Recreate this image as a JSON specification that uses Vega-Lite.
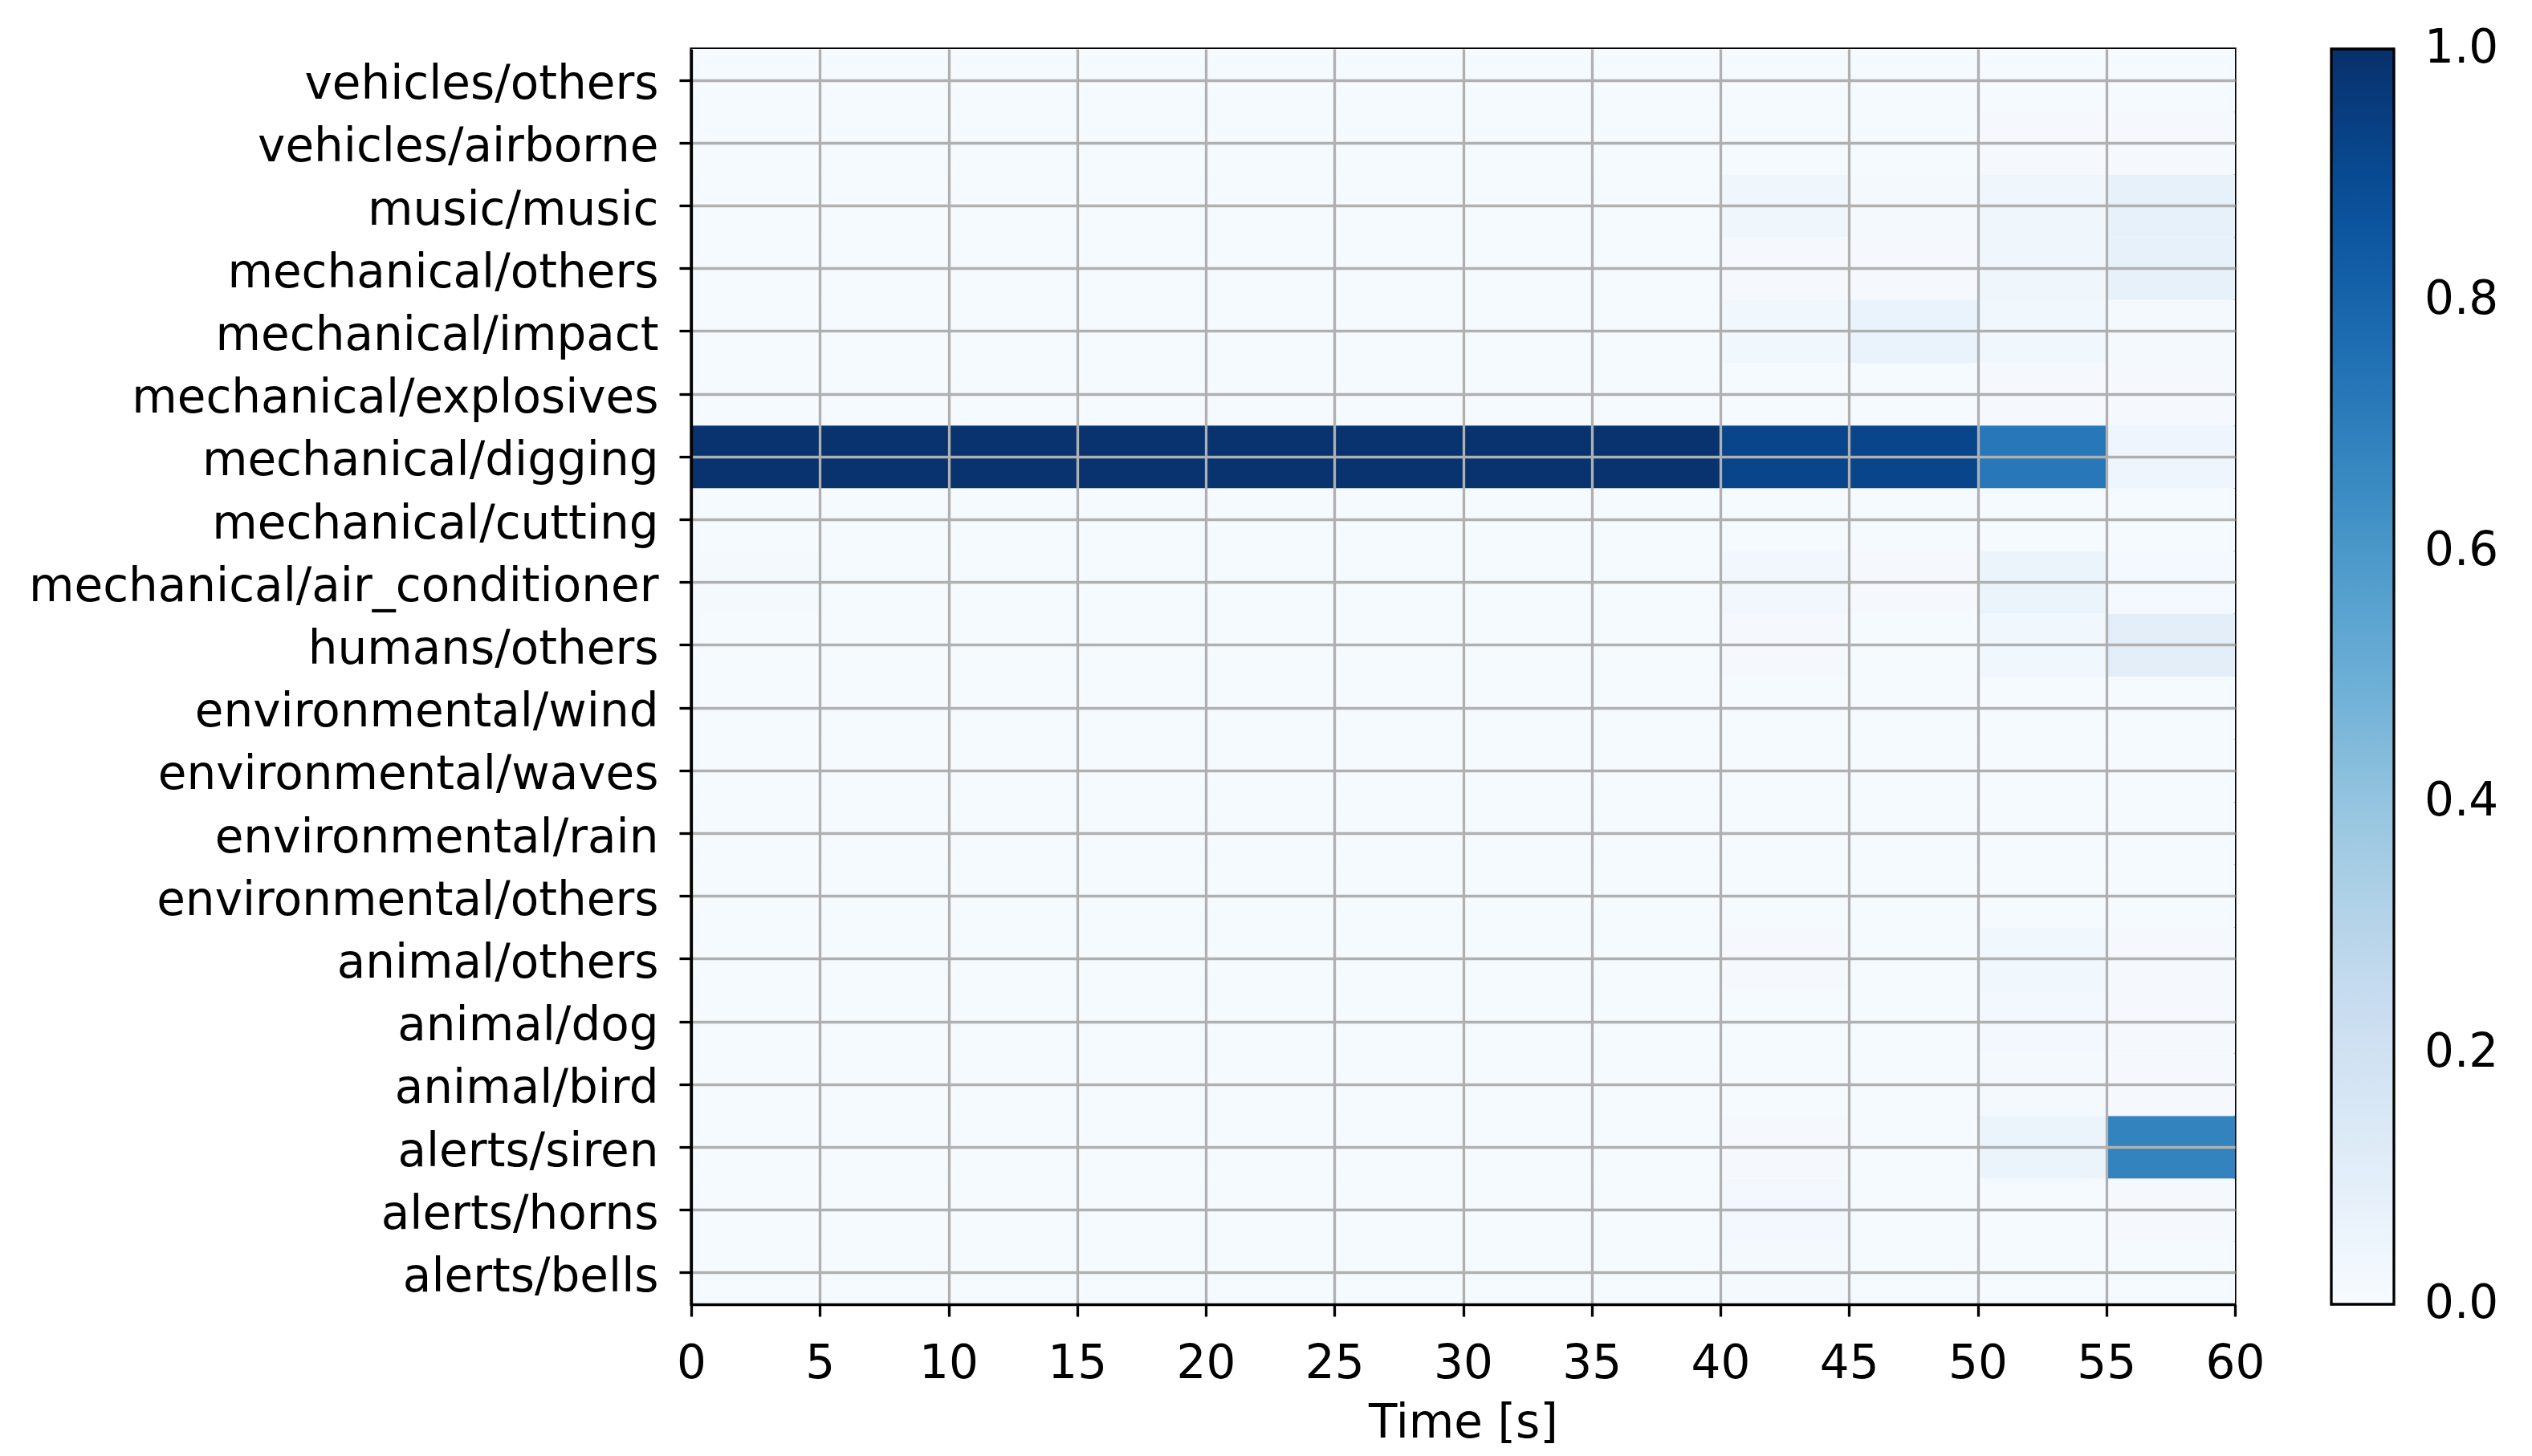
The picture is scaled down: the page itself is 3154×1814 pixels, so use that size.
{
"$schema": "https://vega.github.io/schema/vega-lite/v6.json",
"width": 1923, "height": 1564,
"autosize": {"type": "none"},
"padding": {"left": 861, "top": 61, "right": 370, "bottom": 189},
"background": "white",
"config": {"font": "DejaVu Sans", "view": {"stroke": "black", "strokeWidth": 3.3}},
"datasets": {"cells": [
{"c":"vehicles/others","t0":0,"t1":5,"v":0.01},{"c":"vehicles/others","t0":5,"t1":10,"v":0.01},{"c":"vehicles/others","t0":10,"t1":15,"v":0.01},{"c":"vehicles/others","t0":15,"t1":20,"v":0.01},{"c":"vehicles/others","t0":20,"t1":25,"v":0.01},{"c":"vehicles/others","t0":25,"t1":30,"v":0.01},{"c":"vehicles/others","t0":30,"t1":35,"v":0.01},{"c":"vehicles/others","t0":35,"t1":40,"v":0.01},{"c":"vehicles/others","t0":40,"t1":45,"v":0.01},{"c":"vehicles/others","t0":45,"t1":50,"v":0.01},{"c":"vehicles/others","t0":50,"t1":55,"v":0.01},{"c":"vehicles/others","t0":55,"t1":60,"v":0.01},
{"c":"vehicles/airborne","t0":0,"t1":5,"v":0.01},{"c":"vehicles/airborne","t0":5,"t1":10,"v":0.01},{"c":"vehicles/airborne","t0":10,"t1":15,"v":0.01},{"c":"vehicles/airborne","t0":15,"t1":20,"v":0.01},{"c":"vehicles/airborne","t0":20,"t1":25,"v":0.01},{"c":"vehicles/airborne","t0":25,"t1":30,"v":0.01},{"c":"vehicles/airborne","t0":30,"t1":35,"v":0.01},{"c":"vehicles/airborne","t0":35,"t1":40,"v":0.01},{"c":"vehicles/airborne","t0":40,"t1":45,"v":0.01},{"c":"vehicles/airborne","t0":45,"t1":50,"v":0.01},{"c":"vehicles/airborne","t0":50,"t1":55,"v":0.012},{"c":"vehicles/airborne","t0":55,"t1":60,"v":0.012},
{"c":"music/music","t0":0,"t1":5,"v":0.01},{"c":"music/music","t0":5,"t1":10,"v":0.01},{"c":"music/music","t0":10,"t1":15,"v":0.01},{"c":"music/music","t0":15,"t1":20,"v":0.01},{"c":"music/music","t0":20,"t1":25,"v":0.01},{"c":"music/music","t0":25,"t1":30,"v":0.01},{"c":"music/music","t0":30,"t1":35,"v":0.01},{"c":"music/music","t0":35,"t1":40,"v":0.01},{"c":"music/music","t0":40,"t1":45,"v":0.04},{"c":"music/music","t0":45,"t1":50,"v":0.015},{"c":"music/music","t0":50,"t1":55,"v":0.04},{"c":"music/music","t0":55,"t1":60,"v":0.08},
{"c":"mechanical/others","t0":0,"t1":5,"v":0.01},{"c":"mechanical/others","t0":5,"t1":10,"v":0.01},{"c":"mechanical/others","t0":10,"t1":15,"v":0.01},{"c":"mechanical/others","t0":15,"t1":20,"v":0.01},{"c":"mechanical/others","t0":20,"t1":25,"v":0.01},{"c":"mechanical/others","t0":25,"t1":30,"v":0.01},{"c":"mechanical/others","t0":30,"t1":35,"v":0.01},{"c":"mechanical/others","t0":35,"t1":40,"v":0.01},{"c":"mechanical/others","t0":40,"t1":45,"v":0.012},{"c":"mechanical/others","t0":45,"t1":50,"v":0.012},{"c":"mechanical/others","t0":50,"t1":55,"v":0.04},{"c":"mechanical/others","t0":55,"t1":60,"v":0.08},
{"c":"mechanical/impact","t0":0,"t1":5,"v":0.01},{"c":"mechanical/impact","t0":5,"t1":10,"v":0.01},{"c":"mechanical/impact","t0":10,"t1":15,"v":0.01},{"c":"mechanical/impact","t0":15,"t1":20,"v":0.01},{"c":"mechanical/impact","t0":20,"t1":25,"v":0.01},{"c":"mechanical/impact","t0":25,"t1":30,"v":0.01},{"c":"mechanical/impact","t0":30,"t1":35,"v":0.01},{"c":"mechanical/impact","t0":35,"t1":40,"v":0.01},{"c":"mechanical/impact","t0":40,"t1":45,"v":0.035},{"c":"mechanical/impact","t0":45,"t1":50,"v":0.065},{"c":"mechanical/impact","t0":50,"t1":55,"v":0.035},{"c":"mechanical/impact","t0":55,"t1":60,"v":0.015},
{"c":"mechanical/explosives","t0":0,"t1":5,"v":0.01},{"c":"mechanical/explosives","t0":5,"t1":10,"v":0.01},{"c":"mechanical/explosives","t0":10,"t1":15,"v":0.01},{"c":"mechanical/explosives","t0":15,"t1":20,"v":0.01},{"c":"mechanical/explosives","t0":20,"t1":25,"v":0.01},{"c":"mechanical/explosives","t0":25,"t1":30,"v":0.01},{"c":"mechanical/explosives","t0":30,"t1":35,"v":0.01},{"c":"mechanical/explosives","t0":35,"t1":40,"v":0.01},{"c":"mechanical/explosives","t0":40,"t1":45,"v":0.01},{"c":"mechanical/explosives","t0":45,"t1":50,"v":0.01},{"c":"mechanical/explosives","t0":50,"t1":55,"v":0.012},{"c":"mechanical/explosives","t0":55,"t1":60,"v":0.012},
{"c":"mechanical/digging","t0":0,"t1":5,"v":0.99},{"c":"mechanical/digging","t0":5,"t1":10,"v":0.99},{"c":"mechanical/digging","t0":10,"t1":15,"v":0.99},{"c":"mechanical/digging","t0":15,"t1":20,"v":0.99},{"c":"mechanical/digging","t0":20,"t1":25,"v":0.99},{"c":"mechanical/digging","t0":25,"t1":30,"v":0.99},{"c":"mechanical/digging","t0":30,"t1":35,"v":0.99},{"c":"mechanical/digging","t0":35,"t1":40,"v":0.99},{"c":"mechanical/digging","t0":40,"t1":45,"v":0.92},{"c":"mechanical/digging","t0":45,"t1":50,"v":0.92},{"c":"mechanical/digging","t0":50,"t1":55,"v":0.724},{"c":"mechanical/digging","t0":55,"t1":60,"v":0.045},
{"c":"mechanical/cutting","t0":0,"t1":5,"v":0.01},{"c":"mechanical/cutting","t0":5,"t1":10,"v":0.01},{"c":"mechanical/cutting","t0":10,"t1":15,"v":0.01},{"c":"mechanical/cutting","t0":15,"t1":20,"v":0.01},{"c":"mechanical/cutting","t0":20,"t1":25,"v":0.01},{"c":"mechanical/cutting","t0":25,"t1":30,"v":0.01},{"c":"mechanical/cutting","t0":30,"t1":35,"v":0.01},{"c":"mechanical/cutting","t0":35,"t1":40,"v":0.01},{"c":"mechanical/cutting","t0":40,"t1":45,"v":0.01},{"c":"mechanical/cutting","t0":45,"t1":50,"v":0.01},{"c":"mechanical/cutting","t0":50,"t1":55,"v":0.01},{"c":"mechanical/cutting","t0":55,"t1":60,"v":0.01},
{"c":"mechanical/air_conditioner","t0":0,"t1":5,"v":0.015},{"c":"mechanical/air_conditioner","t0":5,"t1":10,"v":0.01},{"c":"mechanical/air_conditioner","t0":10,"t1":15,"v":0.01},{"c":"mechanical/air_conditioner","t0":15,"t1":20,"v":0.01},{"c":"mechanical/air_conditioner","t0":20,"t1":25,"v":0.01},{"c":"mechanical/air_conditioner","t0":25,"t1":30,"v":0.01},{"c":"mechanical/air_conditioner","t0":30,"t1":35,"v":0.01},{"c":"mechanical/air_conditioner","t0":35,"t1":40,"v":0.01},{"c":"mechanical/air_conditioner","t0":40,"t1":45,"v":0.03},{"c":"mechanical/air_conditioner","t0":45,"t1":50,"v":0.012},{"c":"mechanical/air_conditioner","t0":50,"t1":55,"v":0.055},{"c":"mechanical/air_conditioner","t0":55,"t1":60,"v":0.018},
{"c":"humans/others","t0":0,"t1":5,"v":0.01},{"c":"humans/others","t0":5,"t1":10,"v":0.01},{"c":"humans/others","t0":10,"t1":15,"v":0.01},{"c":"humans/others","t0":15,"t1":20,"v":0.01},{"c":"humans/others","t0":20,"t1":25,"v":0.01},{"c":"humans/others","t0":25,"t1":30,"v":0.01},{"c":"humans/others","t0":30,"t1":35,"v":0.01},{"c":"humans/others","t0":35,"t1":40,"v":0.01},{"c":"humans/others","t0":40,"t1":45,"v":0.012},{"c":"humans/others","t0":45,"t1":50,"v":0.01},{"c":"humans/others","t0":50,"t1":55,"v":0.035},{"c":"humans/others","t0":55,"t1":60,"v":0.1},
{"c":"environmental/wind","t0":0,"t1":5,"v":0.01},{"c":"environmental/wind","t0":5,"t1":10,"v":0.01},{"c":"environmental/wind","t0":10,"t1":15,"v":0.01},{"c":"environmental/wind","t0":15,"t1":20,"v":0.01},{"c":"environmental/wind","t0":20,"t1":25,"v":0.01},{"c":"environmental/wind","t0":25,"t1":30,"v":0.01},{"c":"environmental/wind","t0":30,"t1":35,"v":0.01},{"c":"environmental/wind","t0":35,"t1":40,"v":0.01},{"c":"environmental/wind","t0":40,"t1":45,"v":0.01},{"c":"environmental/wind","t0":45,"t1":50,"v":0.01},{"c":"environmental/wind","t0":50,"t1":55,"v":0.01},{"c":"environmental/wind","t0":55,"t1":60,"v":0.01},
{"c":"environmental/waves","t0":0,"t1":5,"v":0.01},{"c":"environmental/waves","t0":5,"t1":10,"v":0.01},{"c":"environmental/waves","t0":10,"t1":15,"v":0.01},{"c":"environmental/waves","t0":15,"t1":20,"v":0.01},{"c":"environmental/waves","t0":20,"t1":25,"v":0.01},{"c":"environmental/waves","t0":25,"t1":30,"v":0.01},{"c":"environmental/waves","t0":30,"t1":35,"v":0.01},{"c":"environmental/waves","t0":35,"t1":40,"v":0.01},{"c":"environmental/waves","t0":40,"t1":45,"v":0.01},{"c":"environmental/waves","t0":45,"t1":50,"v":0.01},{"c":"environmental/waves","t0":50,"t1":55,"v":0.01},{"c":"environmental/waves","t0":55,"t1":60,"v":0.01},
{"c":"environmental/rain","t0":0,"t1":5,"v":0.01},{"c":"environmental/rain","t0":5,"t1":10,"v":0.01},{"c":"environmental/rain","t0":10,"t1":15,"v":0.01},{"c":"environmental/rain","t0":15,"t1":20,"v":0.01},{"c":"environmental/rain","t0":20,"t1":25,"v":0.01},{"c":"environmental/rain","t0":25,"t1":30,"v":0.01},{"c":"environmental/rain","t0":30,"t1":35,"v":0.01},{"c":"environmental/rain","t0":35,"t1":40,"v":0.01},{"c":"environmental/rain","t0":40,"t1":45,"v":0.01},{"c":"environmental/rain","t0":45,"t1":50,"v":0.01},{"c":"environmental/rain","t0":50,"t1":55,"v":0.01},{"c":"environmental/rain","t0":55,"t1":60,"v":0.01},
{"c":"environmental/others","t0":0,"t1":5,"v":0.01},{"c":"environmental/others","t0":5,"t1":10,"v":0.01},{"c":"environmental/others","t0":10,"t1":15,"v":0.01},{"c":"environmental/others","t0":15,"t1":20,"v":0.01},{"c":"environmental/others","t0":20,"t1":25,"v":0.01},{"c":"environmental/others","t0":25,"t1":30,"v":0.01},{"c":"environmental/others","t0":30,"t1":35,"v":0.01},{"c":"environmental/others","t0":35,"t1":40,"v":0.01},{"c":"environmental/others","t0":40,"t1":45,"v":0.01},{"c":"environmental/others","t0":45,"t1":50,"v":0.01},{"c":"environmental/others","t0":50,"t1":55,"v":0.01},{"c":"environmental/others","t0":55,"t1":60,"v":0.01},
{"c":"animal/others","t0":0,"t1":5,"v":0.01},{"c":"animal/others","t0":5,"t1":10,"v":0.01},{"c":"animal/others","t0":10,"t1":15,"v":0.01},{"c":"animal/others","t0":15,"t1":20,"v":0.01},{"c":"animal/others","t0":20,"t1":25,"v":0.01},{"c":"animal/others","t0":25,"t1":30,"v":0.01},{"c":"animal/others","t0":30,"t1":35,"v":0.01},{"c":"animal/others","t0":35,"t1":40,"v":0.01},{"c":"animal/others","t0":40,"t1":45,"v":0.012},{"c":"animal/others","t0":45,"t1":50,"v":0.01},{"c":"animal/others","t0":50,"t1":55,"v":0.035},{"c":"animal/others","t0":55,"t1":60,"v":0.012},
{"c":"animal/dog","t0":0,"t1":5,"v":0.01},{"c":"animal/dog","t0":5,"t1":10,"v":0.01},{"c":"animal/dog","t0":10,"t1":15,"v":0.01},{"c":"animal/dog","t0":15,"t1":20,"v":0.01},{"c":"animal/dog","t0":20,"t1":25,"v":0.01},{"c":"animal/dog","t0":25,"t1":30,"v":0.01},{"c":"animal/dog","t0":30,"t1":35,"v":0.01},{"c":"animal/dog","t0":35,"t1":40,"v":0.01},{"c":"animal/dog","t0":40,"t1":45,"v":0.01},{"c":"animal/dog","t0":45,"t1":50,"v":0.01},{"c":"animal/dog","t0":50,"t1":55,"v":0.025},{"c":"animal/dog","t0":55,"t1":60,"v":0.012},
{"c":"animal/bird","t0":0,"t1":5,"v":0.01},{"c":"animal/bird","t0":5,"t1":10,"v":0.01},{"c":"animal/bird","t0":10,"t1":15,"v":0.01},{"c":"animal/bird","t0":15,"t1":20,"v":0.01},{"c":"animal/bird","t0":20,"t1":25,"v":0.01},{"c":"animal/bird","t0":25,"t1":30,"v":0.01},{"c":"animal/bird","t0":30,"t1":35,"v":0.01},{"c":"animal/bird","t0":35,"t1":40,"v":0.01},{"c":"animal/bird","t0":40,"t1":45,"v":0.01},{"c":"animal/bird","t0":45,"t1":50,"v":0.01},{"c":"animal/bird","t0":50,"t1":55,"v":0.015},{"c":"animal/bird","t0":55,"t1":60,"v":0.012},
{"c":"alerts/siren","t0":0,"t1":5,"v":0.01},{"c":"alerts/siren","t0":5,"t1":10,"v":0.01},{"c":"alerts/siren","t0":10,"t1":15,"v":0.01},{"c":"alerts/siren","t0":15,"t1":20,"v":0.01},{"c":"alerts/siren","t0":20,"t1":25,"v":0.01},{"c":"alerts/siren","t0":25,"t1":30,"v":0.01},{"c":"alerts/siren","t0":30,"t1":35,"v":0.01},{"c":"alerts/siren","t0":35,"t1":40,"v":0.01},{"c":"alerts/siren","t0":40,"t1":45,"v":0.012},{"c":"alerts/siren","t0":45,"t1":50,"v":0.01},{"c":"alerts/siren","t0":50,"t1":55,"v":0.06},{"c":"alerts/siren","t0":55,"t1":60,"v":0.682},
{"c":"alerts/horns","t0":0,"t1":5,"v":0.01},{"c":"alerts/horns","t0":5,"t1":10,"v":0.01},{"c":"alerts/horns","t0":10,"t1":15,"v":0.01},{"c":"alerts/horns","t0":15,"t1":20,"v":0.01},{"c":"alerts/horns","t0":20,"t1":25,"v":0.01},{"c":"alerts/horns","t0":25,"t1":30,"v":0.01},{"c":"alerts/horns","t0":30,"t1":35,"v":0.01},{"c":"alerts/horns","t0":35,"t1":40,"v":0.01},{"c":"alerts/horns","t0":40,"t1":45,"v":0.02},{"c":"alerts/horns","t0":45,"t1":50,"v":0.01},{"c":"alerts/horns","t0":50,"t1":55,"v":0.01},{"c":"alerts/horns","t0":55,"t1":60,"v":0.012},
{"c":"alerts/bells","t0":0,"t1":5,"v":0.01},{"c":"alerts/bells","t0":5,"t1":10,"v":0.01},{"c":"alerts/bells","t0":10,"t1":15,"v":0.01},{"c":"alerts/bells","t0":15,"t1":20,"v":0.01},{"c":"alerts/bells","t0":20,"t1":25,"v":0.01},{"c":"alerts/bells","t0":25,"t1":30,"v":0.01},{"c":"alerts/bells","t0":30,"t1":35,"v":0.01},{"c":"alerts/bells","t0":35,"t1":40,"v":0.01},{"c":"alerts/bells","t0":40,"t1":45,"v":0.016},{"c":"alerts/bells","t0":45,"t1":50,"v":0.01},{"c":"alerts/bells","t0":50,"t1":55,"v":0.01},{"c":"alerts/bells","t0":55,"t1":60,"v":0.01}
]},
"data": {"name": "cells"},
"mark": {"type": "rect"},
"encoding": {
  "x": {"field": "t0", "type": "quantitative",
        "scale": {"domain": [0, 60], "nice": false, "zero": false},
        "axis": {"values": [0,5,10,15,20,25,30,35,40,45,50,55,60], "title": "Time [s]",
                 "titleFontSize": 58, "titleFontWeight": "normal", "titleColor": "black", "titlePadding": 16,
                 "labelFontSize": 58, "labelColor": "black", "labelFlush": false, "labelOverlap": false, "labelPadding": 30,
                 "tickSize": 15, "tickWidth": 3.3, "tickColor": "black",
                 "domainColor": "black", "domainWidth": 3.3,
                 "grid": true, "gridWidth": 3.3,
                 "gridColor": {"condition": {"test": "datum.value == 0 || datum.value == 60", "value": "transparent"}, "value": "#b0b0b0"},
                 "zindex": 1}},
  "x2": {"field": "t1"},
  "y": {"field": "c", "type": "nominal",
        "sort": ["vehicles/others","vehicles/airborne","music/music","mechanical/others","mechanical/impact","mechanical/explosives","mechanical/digging","mechanical/cutting","mechanical/air_conditioner","humans/others","environmental/wind","environmental/waves","environmental/rain","environmental/others","animal/others","animal/dog","animal/bird","alerts/siren","alerts/horns","alerts/bells"],
        "scale": {"paddingInner": 0, "paddingOuter": 0},
        "axis": {"title": null, "labelFontSize": 58, "labelColor": "black", "labelLimit": 2000, "labelPadding": 26, "labelOffset": 6,
                 "tickSize": 15, "tickWidth": 3.3, "tickColor": "black",
                 "domainColor": "black", "domainWidth": 3.3,
                 "grid": true, "gridColor": "#b0b0b0", "gridWidth": 3.3, "zindex": 1}},
  "color": {"field": "v", "type": "quantitative",
            "scale": {"domain": [0, 0.125, 0.25, 0.375, 0.5, 0.625, 0.75, 0.875, 1],
                      "range": ["#f7fbff","#deebf7","#c6dbef","#9ecae1","#6baed6","#4292c6","#2171b5","#08519c","#08306b"],
                      "interpolate": "rgb"},
            "legend": {"type": "gradient", "orient": "none", "legendX": 2043, "legendY": 0, "direction": "vertical",
                       "gradientLength": 1564, "gradientThickness": 78, "gradientStrokeColor": "black", "gradientStrokeWidth": 3.3,
                       "title": null, "values": [0, 0.2, 0.4, 0.6, 0.8, 1.0], "format": ".1f",
                       "labelFontSize": 58, "labelColor": "black", "labelOffset": 38, "labelOverlap": false,
                       "padding": 0, "offset": 0,
                       "encode": {"labels": {"update": {"baseline": {"value": "middle"}}}}}}
}
}
